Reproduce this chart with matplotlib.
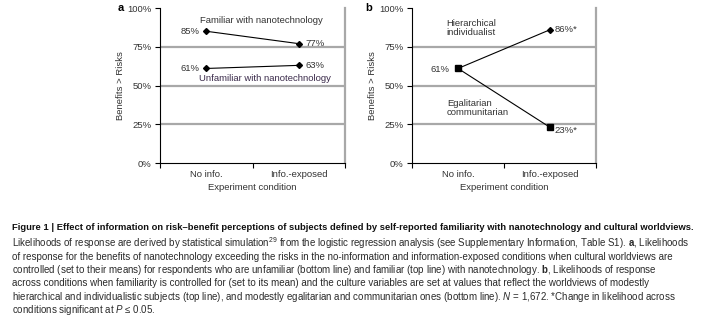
import numpy as np
import matplotlib.pyplot as plt

conditions = ["No info.", "Info.-exposed"]
familiar = [85, 77]
unfamiliar = [61, 63]
hierarchical = [61, 86]
egalitarian = [61, 23]
yticks = [0, 25, 50, 75, 100]

FONT = ["Liberation Sans", "DejaVu Sans"]
plt.rcParams["font.family"] = FONT
plt.rcParams["mathtext.fontset"] = "custom"
plt.rcParams["mathtext.rm"] = "Liberation Sans"
plt.rcParams["mathtext.it"] = "Liberation Sans:italic"
plt.rcParams["mathtext.bf"] = "Liberation Sans:bold"

fig = plt.figure(figsize=(7.1, 3.27), dpi=100)
ax_a = fig.add_axes([0.2254, 0.5015, 0.2606, 0.474])
ax_b = fig.add_axes([0.5803, 0.5015, 0.2592, 0.474])
xpos = np.array([0.5, 1.5])
fs = 6.8
txt = "#333333"


def style(ax, letter, lx):
    ax.set_xlim(0, 2)
    ax.set_ylim(0, 100)
    ax.set_yticks(yticks)
    ax.set_yticklabels([f"{v}%" for v in yticks], fontsize=fs, color=txt)
    ax.set_xticks([0, 1, 2])
    ax.set_xticklabels([])
    ax.set_xticks(xpos, minor=True)
    ax.set_xticklabels(conditions, minor=True, fontsize=fs, color=txt)
    ax.tick_params(axis="x", which="minor", length=0, pad=5)
    ax.tick_params(axis="both", which="major", length=3.5, width=0.8, pad=2.5)
    for v in [25, 50, 75]:
        ax.axhline(v, color="#a8a8a8", lw=1.6, zorder=0)
    ax.spines["top"].set_visible(False)
    ax.spines["right"].set_color("#a8a8a8")
    ax.spines["right"].set_linewidth(1.6)
    ax.spines["left"].set_linewidth(0.8)
    ax.spines["bottom"].set_linewidth(0.8)
    ax.set_ylabel("Benefits > Risks", fontsize=fs, color=txt, labelpad=1.5)
    ax.set_xlabel("Experiment condition", fontsize=fs, color=txt, labelpad=3)
    ax.text(lx, 1.0, letter, transform=ax.transAxes, fontsize=8,
            fontweight="bold", ha="left", va="center")


style(ax_a, "a", -0.23)
style(ax_b, "b", -0.255)

# panel a
ax_a.plot(xpos, familiar, color="black", lw=0.8, marker="D", ms=3.0)
ax_a.plot(xpos, unfamiliar, color="black", lw=0.8, marker="D", ms=3.0)
ax_a.text(1.1, 92, "Familiar with nanotechnology", fontsize=fs, color=txt,
          ha="center", va="center")
ax_a.text(1.13, 54.5, "Unfamiliar with nanotechnology", fontsize=fs,
          color="#3a2a4a", ha="center", va="center")
ax_a.text(0.43, familiar[0], f"{familiar[0]}%", fontsize=fs, color=txt,
          ha="right", va="center")
ax_a.text(1.57, familiar[1], f"{familiar[1]}%", fontsize=fs, color=txt,
          ha="left", va="center")
ax_a.text(0.43, unfamiliar[0], f"{unfamiliar[0]}%", fontsize=fs, color=txt,
          ha="right", va="center")
ax_a.text(1.57, unfamiliar[1], f"{unfamiliar[1]}%", fontsize=fs, color=txt,
          ha="left", va="center")

# panel b
ax_b.plot(xpos, hierarchical, color="black", lw=0.8, marker="D", ms=3.0)
ax_b.plot(xpos, egalitarian, color="black", lw=0.8, marker="s", ms=4.2)
ax_b.text(0.37, 87, "Hierarchical\nindividualist", fontsize=fs, color=txt,
          ha="left", va="center", linespacing=1.05)
ax_b.text(0.38, 35.5, "Egalitarian\ncommunitarian", fontsize=fs, color=txt,
          ha="left", va="center", linespacing=1.05)
ax_b.text(0.41, hierarchical[0] - 0.5, f"{hierarchical[0]}%", fontsize=fs,
          color=txt, ha="right", va="center")
ax_b.text(1.55, hierarchical[1], f"{hierarchical[1]}%*", fontsize=fs,
          color=txt, ha="left", va="center")
ax_b.text(1.55, 21, f"{egalitarian[1]}%*", fontsize=fs,
          color=txt, ha="left", va="center")

# caption
caption = [
    r"Likelihoods of response are derived by statistical simulation$^{29}$ from the logistic regression analysis (see Supplementary Information, Table S1). $\mathbf{a}$, Likelihoods",
    "of response for the benefits of nanotechnology exceeding the risks in the no-information and information-exposed conditions when cultural worldviews are",
    r"controlled (set to their means) for respondents who are unfamiliar (bottom line) and familiar (top line) with nanotechnology. $\mathbf{b}$, Likelihoods of response",
    "across conditions when familiarity is controlled for (set to its mean) and the culture variables are set at values that reflect the worldviews of modestly",
    r"hierarchical and individualistic subjects (top line), and modestly egalitarian and communitarian ones (bottom line). $N$ = 1,672. *Change in likelihood across",
    "conditions significant at $P$ ≤ 0.05.",
]
fig.text(12 / 710, 1 - 228 / 327,
         "Figure 1 | Effect of information on risk–benefit perceptions of subjects defined by self-reported familiarity with nanotechnology and cultural worldviews.",
         fontsize=6.75, fontweight="bold", ha="left", va="center", color="#111111")
for i, line in enumerate(caption):
    fig.text(12 / 710, 1 - (243.3 + 13.3 * i) / 327, line, fontsize=7.05,
             ha="left", va="center", color="#2a2a2a")

fig.savefig("out.png", dpi=100)
